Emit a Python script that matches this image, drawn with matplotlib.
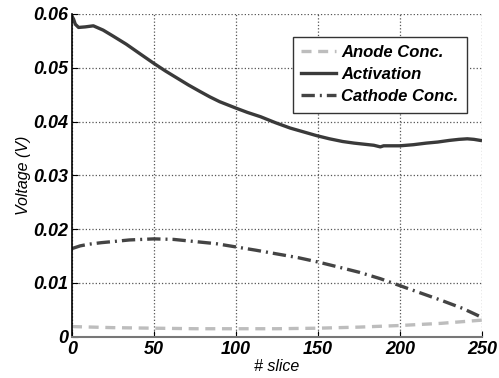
import matplotlib
matplotlib.use("Agg")
import matplotlib.pyplot as plt
import numpy as np

plt.rcParams['font.family'] = ['Liberation Sans', 'DejaVu Sans']

slice_act = [0, 1, 2, 4, 8, 13, 19, 25, 33, 41, 50, 57, 64, 71, 78, 84, 90, 100, 107, 115, 124, 133, 141, 149, 157, 165, 172, 178, 184, 188, 190, 195, 200, 208, 216, 223, 230, 236, 241, 245, 249]
activation = [0.0596, 0.0590, 0.0581, 0.0575, 0.0576, 0.0578, 0.0570, 0.0559, 0.0544, 0.0527, 0.0508, 0.0494, 0.0481, 0.0468, 0.0456, 0.0446, 0.0437, 0.0425, 0.0417, 0.0409, 0.0398, 0.0388, 0.0381, 0.0374, 0.0368, 0.0363, 0.0360, 0.0358, 0.0356, 0.0353, 0.0355, 0.0355, 0.0355, 0.0357, 0.0360, 0.0362, 0.0365, 0.0367, 0.0368, 0.0367, 0.0365]

slice_cat = [0, 5, 10, 18, 25, 35, 50, 62, 75, 88, 100, 112, 125, 138, 150, 162, 175, 188, 200, 212, 225, 238, 250]
cathode = [0.0164, 0.0169, 0.0172, 0.0175, 0.0177, 0.0180, 0.0182, 0.0181, 0.0177, 0.0173, 0.0167, 0.0161, 0.0154, 0.0147, 0.0139, 0.0130, 0.0120, 0.0108, 0.0095, 0.0082, 0.0068, 0.0053, 0.0036]

slice_an = [0, 25, 50, 75, 100, 125, 150, 175, 200, 225, 250]
anode = [0.0019, 0.0017, 0.0016, 0.0015, 0.0015, 0.0015, 0.0016, 0.0018, 0.0021, 0.0025, 0.0031]

xticks = [0, 50, 100, 150, 200, 250]
yticks = [0, 0.01, 0.02, 0.03, 0.04, 0.05, 0.06]
yticklabels = ['0', '0.01', '0.02', '0.03', '0.04', '0.05', '0.06']

fig = plt.figure(figsize=(4.99, 3.78), dpi=100)
ax = fig.add_axes([0.1443, 0.109, 0.8217, 0.854])

ax.plot(slice_an, anode, color='#bdbdbd', lw=2.4, ls=(0, (3, 2)), label='Anode Conc.')
ax.plot(slice_act, activation, color='#3a3a3a', lw=2.4, label='Activation')
ax.plot(slice_cat, cathode, color='#444444', lw=2.4, ls=(0, (4, 1.5, 0.6, 1.5)), label='Cathode Conc.')

ax.set_xlim(0, 250)
ax.set_ylim(0, 0.06)
ax.set_xticks(xticks)
ax.set_yticks(yticks)
ax.set_yticklabels(yticklabels)
for lab in ax.get_xticklabels() + ax.get_yticklabels():
    lab.set_fontweight('bold')
    lab.set_fontstyle('italic')
    lab.set_fontsize(13)
ax.tick_params(direction='in', length=4, pad=3)
ax.grid(True, ls=':', color='#555555', lw=0.9)
ax.spines['top'].set_visible(False)
ax.spines['right'].set_visible(False)
ax.spines['left'].set_color('black')
ax.spines['bottom'].set_color('#777777')
ax.spines['left'].set_linewidth(1.2)
ax.spines['bottom'].set_linewidth(1.5)

ax.set_xlabel('# slice', fontstyle='italic', fontsize=11.5, labelpad=1)
ax.set_ylabel('Voltage (V)', fontstyle='italic', fontsize=11.5, labelpad=1)

leg = ax.legend(loc='upper right', bbox_to_anchor=(0.983, 0.955), fancybox=False, edgecolor='#333333',
                framealpha=1, borderpad=0.5, handlelength=2.1, handletextpad=0.3, labelspacing=0.42,
                prop={'style': 'italic', 'weight': 'bold', 'size': 12})
leg.get_frame().set_linewidth(1.0)

fig.savefig('out.png', dpi=100)
